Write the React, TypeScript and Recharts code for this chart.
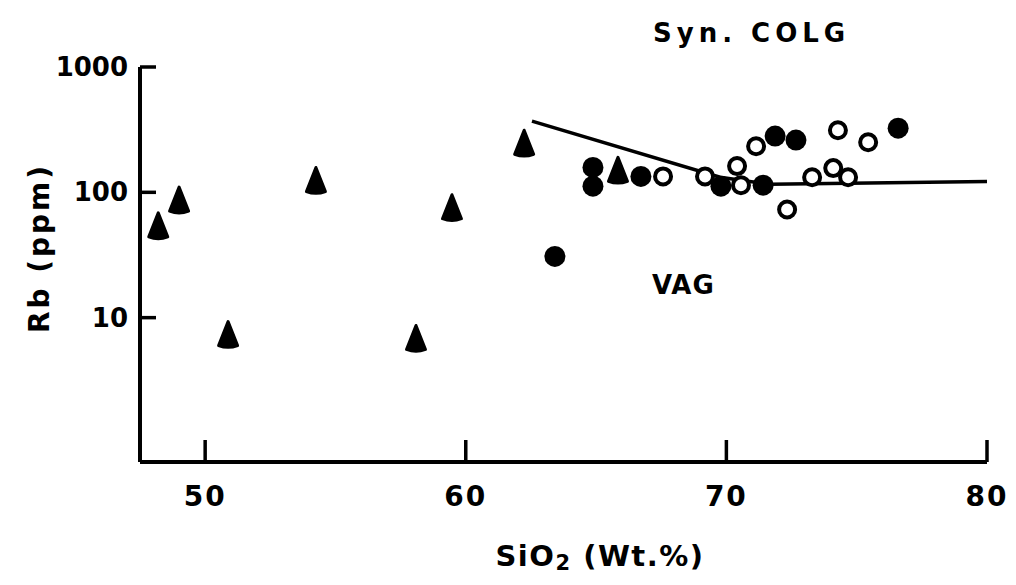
import React from "react";
import { ScatterChart, Scatter, XAxis, YAxis } from "recharts";

// SiO2 (wt.%) / Rb (ppm)
const triangleSiO2 = [49.0, 48.2, 54.25, 59.47, 50.88, 58.09, 62.24, 65.84];
const triangleRb = [85, 53, 122, 74, 7.2, 6.7, 242, 147];

const filledSiO2 = [64.88, 64.88, 66.72, 63.42, 69.79, 71.41, 71.87, 72.67, 76.59];
const filledRb = [158, 112, 134, 30.8, 112, 114, 281, 261, 325];

const openSiO2 = [67.57, 69.18, 70.41, 70.56, 71.14, 72.33, 73.29, 74.1, 74.28, 74.67, 75.44];
const openRb = [134, 134, 162, 114, 233, 73, 132, 156, 313, 132, 251];

// syn-COLG / VAG boundary
const boundarySiO2 = [62.54, 69.76, 71.67, 80];
const boundaryRb = [370, 132, 116, 122];

const xTicks = [50, 60, 70, 80];
const yTicks = [10, 100, 1000];
const xDomain = [47.5, 80];
const yDomain = [0.705, 1000];

const zip = (xs: number[], ys: number[]) => xs.map((x, i) => ({ x, y: ys[i] }));
const triangles = zip(triangleSiO2, triangleRb);
const filled = zip(filledSiO2, filledRb);
const open = zip(openSiO2, openRb);
const boundary = zip(boundarySiO2, boundaryRb);

const FONT = "'DejaVu Sans', sans-serif";

const Triangle = (p: any) => {
  const { cx, cy } = p;
  const d = `M ${cx} ${cy - 14} L ${cx + 9.5} ${cy + 10} Q ${cx} ${cy + 13.5} ${cx - 9.5} ${cy + 10} Z`;
  return <path d={d} fill="#000" stroke="#000" strokeWidth={3} strokeLinejoin="round" />;
};
const FilledCircle = (p: any) => <circle cx={p.cx} cy={p.cy} r={10.5} fill="#000" />;
const OpenCircle = (p: any) => (
  <circle cx={p.cx} cy={p.cy} r={8} fill="#fff" stroke="#000" strokeWidth={4} />
);
const NoShape = () => <g />;

const XTick = (p: any) => {
  const { x, y, payload } = p;
  return (
    <g>
      <line x1={x} y1={y} x2={x} y2={y - 22} stroke="#000" strokeWidth={3.5} />
      <text
        x={x}
        y={y + 34}
        textAnchor="middle"
        dominantBaseline="central"
        fontFamily={FONT}
        fontWeight="bold"
        fontSize={28}
        letterSpacing={2}
        fill="#000"
      >
        {payload.value}
      </text>
    </g>
  );
};

const YTick = (p: any) => {
  const { x, y, payload } = p;
  return (
    <g>
      <line x1={x} y1={y} x2={x + 16} y2={y} stroke="#000" strokeWidth={3.5} />
      <text
        x={x - 12}
        y={y}
        textAnchor="end"
        dominantBaseline="central"
        fontFamily={FONT}
        fontWeight="bold"
        fontSize={26}
        fill="#000"
      >
        {payload.value}
      </text>
    </g>
  );
};

export default function App() {
  return (
    <ScatterChart
      width={1000}
      height={570}
      margin={{ top: 59, right: 21, bottom: 56, left: 72 }}
      style={{ background: "#fff" }}
    >
      <XAxis
        type="number"
        dataKey="x"
        domain={xDomain}
        ticks={xTicks}
        allowDataOverflow
        height={60}
        tickSize={0}
        tickMargin={0}
        tickLine={false}
        axisLine={{ stroke: "#000", strokeWidth: 4 }}
        tick={<XTick />}
        interval={0}
      />
      <YAxis
        type="number"
        dataKey="y"
        scale="log"
        domain={yDomain}
        ticks={yTicks}
        allowDataOverflow
        width={60}
        tickSize={0}
        tickMargin={0}
        tickLine={false}
        axisLine={{ stroke: "#000", strokeWidth: 4 }}
        tick={<YTick />}
        interval={0}
      />
      <Scatter
        data={boundary}
        line={{ stroke: "#000", strokeWidth: 3.5 }}
        lineJointType="linear"
        shape={NoShape}
        isAnimationActive={false}
      />
      <Scatter data={triangles} shape={Triangle} isAnimationActive={false} />
      <Scatter data={filled} shape={FilledCircle} isAnimationActive={false} />
      <Scatter data={open} shape={OpenCircle} isAnimationActive={false} />

      <text
        x={31}
        y={240}
        transform="rotate(-90 31 240)"
        textAnchor="middle"
        dominantBaseline="central"
        fontFamily={FONT}
        fontWeight="bold"
        fontSize={28}
        letterSpacing={3}
        fill="#000"
      >
        Rb (ppm)
      </text>
      <text
        x={592}
        y={548}
        textAnchor="middle"
        dominantBaseline="central"
        fontFamily={FONT}
        fontWeight="bold"
        fontSize={29}
        letterSpacing={1.5}
        fill="#000"
      >
        SiO<tspan fontSize={21} dy={7}>2</tspan>
        <tspan dy={-7}> (Wt.%)</tspan>
      </text>
      <text
        x={645}
        y={25}
        dominantBaseline="central"
        fontFamily={FONT}
        fontWeight="bold"
        fontSize={26}
        letterSpacing={5}
        fill="#000"
      >
        Syn. COLG
      </text>
      <text
        x={644}
        y={277}
        dominantBaseline="central"
        fontFamily={FONT}
        fontWeight="bold"
        fontSize={26}
        letterSpacing={1}
        fill="#000"
      >
        VAG
      </text>
    </ScatterChart>
  );
}
